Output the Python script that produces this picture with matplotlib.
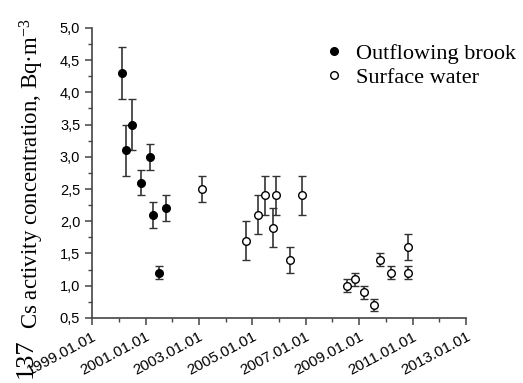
import datetime
import matplotlib
matplotlib.use("Agg")
import matplotlib.pyplot as plt
import matplotlib.dates as mdates
import matplotlib.ticker as mticker
from matplotlib.lines import Line2D

# Outflowing brook samples
brook_dates = ["2000-02-10", "2000-04-05", "2000-06-28", "2000-11-05",
               "2001-02-28", "2001-04-20", "2001-07-05", "2001-10-05"]
brook_vals = [4.3, 3.1, 3.5, 2.6, 3.0, 2.1, 1.2, 2.2]
brook_err = [0.4, 0.4, 0.4, 0.2, 0.2, 0.2, 0.1, 0.2]

# Surface water samples
surf_dates = ["2003-02-15", "2004-10-05", "2005-03-20", "2005-06-28",
              "2005-10-08", "2005-11-15", "2006-05-25", "2006-11-18",
              "2008-07-20", "2008-11-02", "2009-03-10", "2009-07-20",
              "2009-10-15", "2010-03-10", "2010-10-30", "2010-10-30"]
surf_vals = [2.5, 1.7, 2.1, 2.4, 1.9, 2.4, 1.4, 2.4,
             1.0, 1.1, 0.9, 0.7, 1.4, 1.2, 1.2, 1.6]
surf_err = [0.2, 0.3, 0.3, 0.3, 0.3, 0.3, 0.2, 0.3,
            0.1, 0.1, 0.1, 0.1, 0.1, 0.1, 0.1, 0.2]

tick_years = [1999, 2001, 2003, 2005, 2007, 2009, 2011, 2013]


def to_dt(lst):
    return [datetime.datetime.strptime(s, "%Y-%m-%d") for s in lst]


plt.rcParams['font.family'] = ['Liberation Sans', 'DejaVu Sans']
plt.rcParams['mathtext.fontset'] = 'custom'
plt.rcParams['mathtext.rm'] = 'Liberation Serif'
plt.rcParams['mathtext.it'] = 'Liberation Serif:italic'

fig = plt.figure(figsize=(5.23, 3.83), dpi=100)
ax = fig.add_axes([0.176, 0.170, 0.715, 0.757])

ekw = dict(ecolor='#333333', elinewidth=1.2, capsize=3, capthick=1.0)
ax.errorbar(to_dt(brook_dates), brook_vals, yerr=brook_err, fmt='o',
            mfc='black', mec='black', ms=5.5, **ekw)
ax.errorbar(to_dt(surf_dates), surf_vals, yerr=surf_err, fmt='o',
            mfc='white', mec='black', mew=1.0, ms=5.5, **ekw)

ax.set_xlim(datetime.datetime(1999, 1, 1), datetime.datetime(2013, 1, 1))
ax.set_ylim(0.5, 5.0)
ax.xaxis.set_major_locator(mticker.FixedLocator(
    [mdates.date2num(datetime.datetime(y, 1, 1)) for y in tick_years]))
ax.xaxis.set_minor_locator(mdates.YearLocator(1))
ax.xaxis.set_major_formatter(mdates.DateFormatter('%Y.%m.%d'))
ax.yaxis.set_major_locator(mticker.MultipleLocator(0.5))
ax.yaxis.set_minor_locator(mticker.MultipleLocator(0.25))
ax.yaxis.set_major_formatter(mticker.FuncFormatter(lambda v, p: f"{v:.1f}".replace('.', ',')))

for side in ['top', 'right']:
    ax.spines[side].set_visible(False)
for side in ['left', 'bottom']:
    ax.spines[side].set_color('#444444')
    ax.spines[side].set_linewidth(1.2)
ax.tick_params(which='major', length=5, width=1.1, color='#444444', labelsize=10.5)
ax.tick_params(which='minor', length=3, width=1.0, color='#444444')
ax.tick_params(axis='x', labelsize=11)
plt.setp(ax.get_xticklabels(), rotation=28, ha='right', rotation_mode='anchor')

# y label: big "137" superscript + the rest in serif
fig.text(32 / 523, 1 - 378 / 383, "137", rotation=90, rotation_mode='anchor',
         ha='left', va='baseline', family='Liberation Serif', fontsize=19)
fig.text(39 / 523, 1 - 329 / 383, r"Cs activity concentration, Bq·m$^{-3}$",
         rotation=90, rotation_mode='anchor', ha='left', va='baseline',
         family='Liberation Serif', fontsize=16.5)

handles = [Line2D([], [], ls='none', marker='o', mfc='black', mec='black', ms=5.5),
           Line2D([], [], ls='none', marker='o', mfc='white', mec='black', ms=5.5)]
ax.legend(handles, ['Outflowing brook', 'Surface water'],
          loc='upper left', bbox_to_anchor=(0.57, 1.0), frameon=False,
          prop={'family': 'Liberation Serif', 'size': 16},
          handletextpad=0.4, borderpad=0.2, labelspacing=0.15, handlelength=1.2)

fig.savefig('out.png', dpi=100)
